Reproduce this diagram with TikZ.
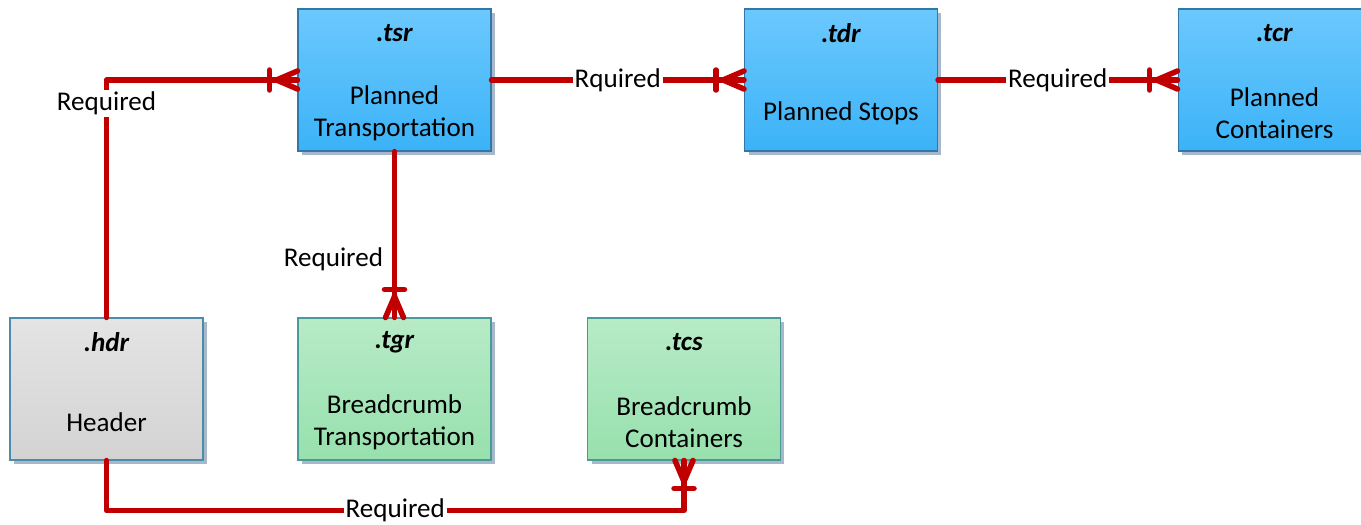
\documentclass[tikz,border=0pt]{standalone}
\usepackage{fontspec}
\setmainfont{Carlito}
\usepackage{tikz}
\usetikzlibrary{shadows}
\definecolor{relred}{HTML}{C00000}
\definecolor{bluetop}{HTML}{6CC8FD}
\definecolor{bluebot}{HTML}{3BB3F8}
\definecolor{bluedraw}{HTML}{3178A8}
\definecolor{greentop}{HTML}{B7EBC7}
\definecolor{greenbot}{HTML}{97E0AD}
\definecolor{greendraw}{HTML}{4A9A98}
\definecolor{graytop}{HTML}{E4E4E4}
\definecolor{graybot}{HTML}{D3D3D3}
\definecolor{graydraw}{HTML}{4C8BAA}
\definecolor{shadowc}{HTML}{A6B8C9}
\newcommand{\crowsfoot}[2]{\begin{scope}[shift={(#1)},rotate=#2]
\draw[rel] (-21,0) -- (0,9); \draw[rel] (-21,0) -- (0,-9); \draw[rel] (-28,10) -- (-28,-10);
\end{scope}}

\begin{document}
\begin{tikzpicture}[x=0.02cm,y=-0.02cm,
  box/.style={rectangle,minimum width=3.86cm,minimum height=2.84cm,line width=0.6pt,
    drop shadow={shadow xshift=0.08cm,shadow yshift=-0.08cm,fill=shadowc,opacity=1}},
  planned/.style={box,draw=bluedraw,top color=bluetop,bottom color=bluebot},
  crumb/.style={box,draw=greendraw,top color=greentop,bottom color=greenbot},
  head/.style={box,draw=graydraw,top color=graytop,bottom color=graybot},
  ttl/.style={font=\fontsize{15.4}{17}\selectfont\bfseries\itshape},
  txt/.style={align=center,font=\fontsize{15.4}{18.2}\selectfont},
  rel/.style={draw=relred,line width=0.11cm,line join=round,line cap=round},
  lbl/.style={fill=white,inner sep=1pt,font=\fontsize{15.4}{17}\selectfont}]
\useasboundingbox (0,0) rectangle (1361,524);

% files
\node[planned] (tsr) at (394.5,80) {}; \node[ttl] (tsrt) at (394.5,33) {.tsr}; \node[txt] (tsrb) at (394.5,113.5) {Planned\\Transportation};
\node[planned] (tdr) at (841,80) {}; \node[ttl] (tdrt) at (841,33) {.tdr}; \node[txt] (tdrb) at (841,113.5) {Planned Stops};
\node[planned] (tcr) at (1274.5,80) {}; \node[ttl] (tcrt) at (1274.5,33) {.tcr}; \node[txt] (tcrb) at (1274.5,113.5) {Planned\\Containers};
\node[head] (hdr) at (106.5,389) {}; \node[ttl] (hdrt) at (106.5,342) {.hdr}; \node[txt] (hdrb) at (106.5,422.5) {Header};
\node[crumb] (tgr) at (394.5,389) {}; \node[ttl] (tgrt) at (394.5,342) {.tgr}; \node[txt] (tgrb) at (394.5,422.5) {Breadcrumb\\Transportation};
\node[crumb] (tcs) at (684,389) {}; \node[ttl] (tcst) at (684,342) {.tcs}; \node[txt] (tcsb) at (684,422.5) {Breadcrumb\\Containers};

% relations
\draw[rel] (hdr.north) |- node[lbl,pos=0.45] (l1) {Required} (tsr.west); \crowsfoot{tsr.west}{0}
\draw[rel] (tsr.east) -- node[lbl] (l2) {Rquired} (tdr.west); \crowsfoot{tdr.west}{0}
\draw[rel] (tdr.east) -- node[lbl] (l3) {Required} (tcr.west); \crowsfoot{tcr.west}{0}
\draw[rel] (tsr.south) -- node[lbl,pos=0.65,left,inner sep=5pt,fill=none] (l4) {Required} (tgr.north); \crowsfoot{tgr.north}{-90}
\draw[rel] (hdr.south) -- ++(0,50) -| node[lbl,pos=0.25] (l5) {Required} (tcs.south); \crowsfoot{tcs.south}{90}

\end{tikzpicture}
\end{document}
